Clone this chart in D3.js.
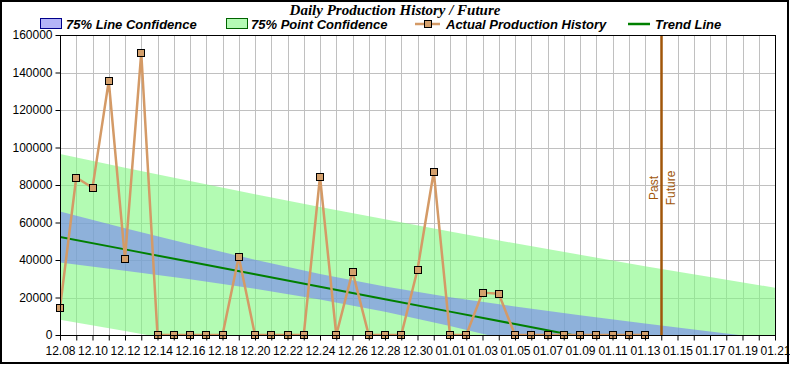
<!DOCTYPE html>
<html><head><meta charset="utf-8">
<script src="https://cdn.jsdelivr.net/npm/d3@7"></script>
<style>
body{margin:0;background:#fff;}
svg{display:block;font-family:Arial,"Liberation Sans",sans-serif;}
</style></head>
<body><svg id="c" width="790" height="365"></svg>
<script>
// ---- data ----
const title = "Daily Production History / Future";
const legendLabels = ["75% Line Confidence", "75% Point Confidence", "Actual Production History", "Trend Line"];
const historyDates = ["2012-12-08","2012-12-09","2012-12-10","2012-12-11","2012-12-12","2012-12-13","2012-12-14","2012-12-15","2012-12-16","2012-12-17","2012-12-18","2012-12-19","2012-12-20","2012-12-21","2012-12-22","2012-12-23","2012-12-24","2012-12-25","2012-12-26","2012-12-27","2012-12-28","2012-12-29","2012-12-30","2012-12-31","2013-01-01","2013-01-02","2013-01-03","2013-01-04","2013-01-05","2013-01-06","2013-01-07","2013-01-08","2013-01-09","2013-01-10","2013-01-11","2013-01-12","2013-01-13"];
const production = [14500,84000,78500,135500,40500,150500,0,0,0,0,0,41700,0,0,0,0,84400,0,33800,0,0,0,34800,87100,0,0,22600,22000,0,0,0,0,0,0,0,0,0];
const bandDates = ["2012-12-08","2012-12-12","2012-12-16","2012-12-20","2012-12-24","2012-12-28","2013-01-01","2013-01-05","2013-01-09","2013-01-13","2013-01-17","2013-01-21"];
const trend      = [52300,45660,39020,32380,25740,19100,12460,5820,-820,-7460,-14100,-20740];
const lineUpper  = [65900,57000,48400,40100,32500,25850,20200,15200,10550,6100,1860,-2300];
const lineLower  = [38700,34300,29700,24700,19000,12350,4750,-3500,-12200,-21100,-30100,-39100];
const pointUpper = [96500,89200,82100,75100,68300,61700,55200,48900,42750,36700,30900,25200];
const pointLower = [8100,2100,-4100,-10400,-16900,-23500,-30300,-37300,-44400,-51700,-59100,-66600];
const xDomain = ["2012-12-08","2013-01-21"];
const yTicks = [0,20000,40000,60000,80000,100000,120000,140000,160000];
const dividerDate = "2013-01-14";
const dividerLabels = ["Past","Future"];

// ---- chart ----
const parse = d3.timeParse("%Y-%m-%d");
const svg = d3.select("#c");
const m = {l:60, r:775, t:35, b:335};
const x = d3.scaleTime().domain(xDomain.map(parse)).range([m.l, m.r]);
const y = d3.scaleLinear().domain([0,160000]).range([m.b, m.t]);

svg.append("rect").attr("x",1).attr("y",1).attr("width",787).attr("height",362)
  .attr("fill","#fff").attr("stroke","#000").attr("stroke-width",2);

svg.append("text").attr("x",395).attr("y",15).attr("text-anchor","middle")
  .attr("font-family","'Liberation Serif','Times New Roman',serif").attr("font-weight","bold")
  .attr("font-style","italic").attr("font-size",15).text(title);

svg.append("defs").append("clipPath").attr("id","pc").append("rect")
  .attr("x",m.l).attr("y",m.t).attr("width",m.r-m.l).attr("height",m.b-m.t);

// grid
const days = d3.timeDay.range(x.domain()[0], d3.timeDay.offset(x.domain()[1],1));
const g = svg.append("g");
g.selectAll("line.vx").data(days).join("line")
  .attr("x1",d=>Math.round(x(d))+0.5).attr("x2",d=>Math.round(x(d))+0.5)
  .attr("y1",m.t).attr("y2",m.b).attr("stroke","#c0c0c0");
g.selectAll("line.hy").data(yTicks).join("line")
  .attr("x1",m.l).attr("x2",m.r).attr("y1",d=>Math.round(y(d))+0.5).attr("y2",d=>Math.round(y(d))+0.5)
  .attr("stroke","#c0c0c0");

const plot = svg.append("g").attr("clip-path","url(#pc)");
const bd = bandDates.map(parse);
const area = (up,lo)=>d3.area().x((d,i)=>x(bd[i])).y0((d,i)=>y(lo[i])).y1((d,i)=>y(up[i]));
plot.append("path").datum(bd).attr("d",area(pointUpper,pointLower))
  .attr("fill","#80f880").attr("fill-opacity",0.6);
plot.append("path").datum(bd).attr("d",area(lineUpper,lineLower))
  .attr("fill","#7480f4").attr("fill-opacity",0.6);
plot.append("path").datum(bd).attr("d",d3.line().x((d,i)=>x(bd[i])).y((d,i)=>y(trend[i])))
  .attr("fill","none").attr("stroke","#008000").attr("stroke-width",2);

// production
const hd = historyDates.map(parse);
plot.append("path").datum(hd).attr("d",d3.line().x(d=>x(d)).y((d,i)=>y(production[i])))
  .attr("fill","none").attr("stroke","#d49a66").attr("stroke-width",2.5).attr("stroke-linejoin","round");

// divider
const dx = Math.round(x(parse(dividerDate)))+0.5;
svg.append("line").attr("x1",dx).attr("x2",dx).attr("y1",m.t).attr("y2",m.b)
  .attr("stroke","#a0560a").attr("stroke-width",2.5);
svg.append("text").attr("transform",`translate(${dx-4},188) rotate(-90)`).attr("text-anchor","middle")
  .attr("font-size",12).attr("fill","#a0560a").text(dividerLabels[0]);
svg.append("text").attr("transform",`translate(${dx+13},188) rotate(-90)`).attr("text-anchor","middle")
  .attr("font-size",12).attr("fill","#a0560a").text(dividerLabels[1]);

// markers
svg.append("g").selectAll("rect").data(hd).join("rect")
  .attr("x",d=>Math.round(x(d))-3.5).attr("y",(d,i)=>Math.round(y(production[i]))-3.5)
  .attr("width",7).attr("height",7).attr("fill","#d4a06c").attr("stroke","#000").attr("stroke-width",1);

// frame
svg.append("rect").attr("x",m.l+0.5).attr("y",m.t+0.5).attr("width",m.r-m.l).attr("height",m.b-m.t)
  .attr("fill","none").attr("stroke","#000");

// axes
const fmt = d3.timeFormat("%m.%d");
const xAxis = d3.axisBottom(x).tickValues(days).tickSize(5).tickSizeOuter(0)
  .tickFormat((d,i)=> i%2===0 ? fmt(d) : "");
svg.append("g").attr("transform",`translate(0,${m.b+0.5})`).call(xAxis)
  .call(a=>{a.select(".domain").remove(); a.selectAll("text").attr("font-size",12).attr("font-family","Arial,'Liberation Sans'").attr("fill","#000").attr("dy","0.95em");});
const yAxis = d3.axisLeft(y).tickValues(yTicks).tickSize(5).tickSizeOuter(0).tickFormat(d3.format("d"));
svg.append("g").attr("transform",`translate(${m.l+0.5},0)`).call(yAxis)
  .call(a=>{a.select(".domain").remove(); a.selectAll("text").attr("font-size",12).attr("font-family","Arial,'Liberation Sans'").attr("fill","#000");});

// legend
const lg = svg.append("g").attr("font-size",13).attr("font-weight","bold").attr("font-style","italic");
lg.append("rect").attr("x",40.5).attr("y",18.5).attr("width",21).attr("height",10).attr("fill","#b4b4f8").attr("stroke","#00008b");
lg.append("text").attr("x",66).attr("y",29).text(legendLabels[0]);
lg.append("rect").attr("x",226.5).attr("y",18.5).attr("width",21).attr("height",10).attr("fill","#b4fbb4").attr("stroke","#006400");
lg.append("text").attr("x",251).attr("y",29).text(legendLabels[1]);
lg.append("line").attr("x1",415).attr("x2",440).attr("y1",24).attr("y2",24).attr("stroke","#d49a66").attr("stroke-width",2.5);
lg.append("rect").attr("x",424.5).attr("y",20.5).attr("width",7).attr("height",7).attr("fill","#d4a06c").attr("stroke","#000");
lg.append("text").attr("x",446).attr("y",29).text(legendLabels[2]);
lg.append("line").attr("x1",628).attr("x2",650).attr("y1",24).attr("y2",24).attr("stroke","#008000").attr("stroke-width",2.5);
lg.append("text").attr("x",655).attr("y",29).text(legendLabels[3]);
</script></body></html>
